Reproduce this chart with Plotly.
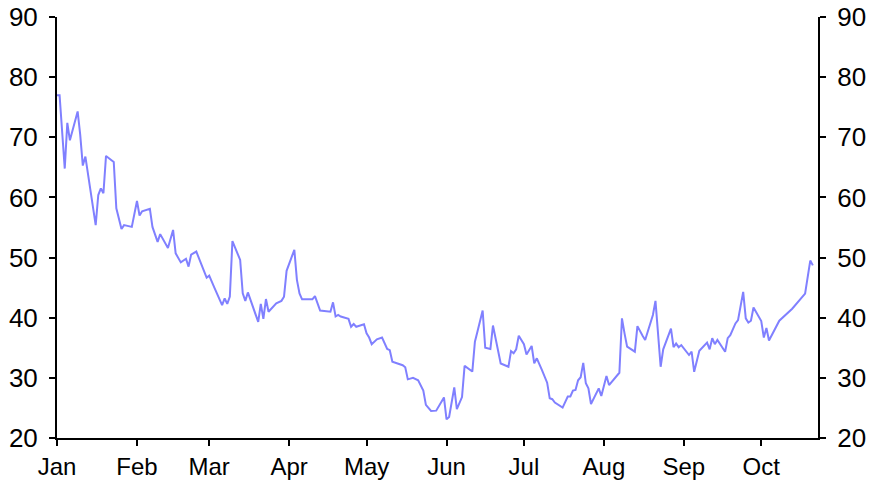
import pandas as pd
import plotly.graph_objects as go

# Day offsets from 1 January and index values
day_offsets = [0, 1, 3, 4, 5, 8, 9, 10, 11, 15, 16, 17, 18, 19, 22, 23, 25, 26, 29, 31,
               32, 33, 36, 37, 39, 40, 43, 45, 46, 48, 50, 51, 52, 54, 58, 59, 61, 64, 65, 66,
               67, 68, 71, 72, 73, 74, 78, 79, 80, 81, 82, 85, 87, 88, 89, 92, 93, 94, 95, 98,
               99, 100, 102, 106, 107, 108, 109, 110, 113, 114, 115, 116, 119, 120, 121, 122, 124, 126, 128, 129,
               130, 134, 135, 136, 138, 140, 142, 143, 145, 147, 150, 151, 152, 154, 155, 157, 158, 161, 162, 163,
               165, 166, 168, 169, 170, 172, 175, 176, 177, 178, 179, 181, 182, 184, 185, 186, 188, 190, 191, 192,
               193, 196, 198, 199, 200, 201, 202, 203, 204, 205, 206, 207, 210, 211, 213, 214, 218, 219, 220, 221,
               224, 225, 227, 228, 231, 232, 234, 235, 238, 239, 240, 241, 242, 245, 246, 247, 249, 251, 252, 253,
               254, 255, 256, 259, 260, 261, 263, 264, 266, 267, 268, 269, 270, 273, 274, 275, 276, 280, 285, 290,
               292, 293]
values = [77.0, 77.0, 64.8, 72.4, 69.5, 74.3, 70.4, 65.3, 66.8, 55.4, 60.4, 61.5, 60.7, 66.9, 65.9, 58.2, 54.75, 55.4, 55.1, 59.4,
          57.0, 57.7, 58.1, 55.1, 52.6, 53.9, 51.6, 54.6, 50.7, 49.2, 49.8, 48.5, 50.5, 51.0, 46.65, 47.0, 45.0, 42.1, 43.2, 42.3,
          43.5, 52.75, 49.6, 44.05, 42.8, 44.2, 39.3, 42.3, 39.8, 43.1, 41.0, 42.4, 42.8, 43.5, 47.8, 51.3, 46.3, 44.05, 43.05, 43.05,
          43.05, 43.6, 41.2, 41.0, 42.55, 40.2, 40.45, 40.2, 39.8, 38.5, 38.95, 38.5, 38.9, 37.4, 36.7, 35.6, 36.4, 36.7, 34.8, 34.6,
          32.7, 32.1, 31.75, 29.75, 30.0, 29.6, 27.9, 25.5, 24.5, 24.55, 26.75, 23.1, 23.5, 28.4, 24.8, 26.8, 32.0, 31.05, 36.0, 37.7,
          41.2, 35.0, 34.8, 38.7, 36.6, 32.4, 31.85, 34.45, 34.1, 34.75, 37.0, 35.6, 33.9, 35.3, 32.4, 33.25, 31.3, 29.2, 26.6, 26.45,
          25.9, 25.05, 26.9, 26.9, 27.9, 28.0, 29.6, 30.1, 32.5, 29.1, 28.25, 25.65, 28.25, 27.0, 30.3, 28.8, 30.85, 39.9, 37.4, 35.2,
          34.35, 38.6, 37.0, 36.3, 40.45, 42.8, 31.85, 34.75, 38.2, 35.1, 35.7, 35.1, 35.45, 33.8, 34.35, 31.0, 34.5, 35.3, 35.85, 34.75,
          36.6, 35.6, 36.3, 34.35, 36.6, 37.1, 39.05, 39.6, 44.3, 39.9, 39.2, 39.5, 41.7, 39.45, 36.7, 38.3, 36.2, 39.5, 41.5, 44.0,
          49.5, 48.7]

y_ticks = [20, 30, 40, 50, 60, 70, 80, 90]
x_range = ["2023-01-01", "2023-10-23"]

dates = pd.Timestamp("2023-01-01") + pd.to_timedelta(day_offsets, unit="D")

fig = go.Figure()
fig.add_trace(go.Scatter(x=dates, y=values, mode="lines",
                         line=dict(color="#8080ff", width=2), showlegend=False))
fig.add_trace(go.Scatter(x=dates, y=values, mode="lines", yaxis="y2",
                         line=dict(color="rgba(0,0,0,0)", width=0), showlegend=False,
                         hoverinfo="skip"))

xfont = dict(family="Liberation Sans, Arial, sans-serif", size=24, color="black")
yfont = dict(family="Liberation Sans, Arial, sans-serif", size=26, color="black")
axis_common = dict(range=[20, 90], tickvals=y_ticks, showgrid=False, zeroline=False,
                   showline=True, linecolor="black", linewidth=2,
                   ticks="outside", ticklen=6, tickwidth=2, tickcolor="black",
                   tickfont=yfont, automargin=False, ticklabelstandoff=6)

fig.update_layout(
    width=878, height=482,
    margin=dict(l=57, r=60, t=17, b=44),
    plot_bgcolor="white", paper_bgcolor="white",
    xaxis=dict(range=x_range, type="date", tickformat="%b", dtick="M1",
               tick0="2023-01-01", showgrid=False, zeroline=False,
               showline=True, linecolor="black", linewidth=2,
               ticks="outside", ticklen=6, tickwidth=2, tickcolor="black",
               tickfont=xfont, automargin=False),
    yaxis=dict(**axis_common, side="left"),
    yaxis2=dict(**axis_common, side="right", overlaying="y"),
)

fig.write_html("out.html", config={"displayModeBar": False},
               post_script="document.body.style.margin='0';document.body.style.overflow='hidden';")
